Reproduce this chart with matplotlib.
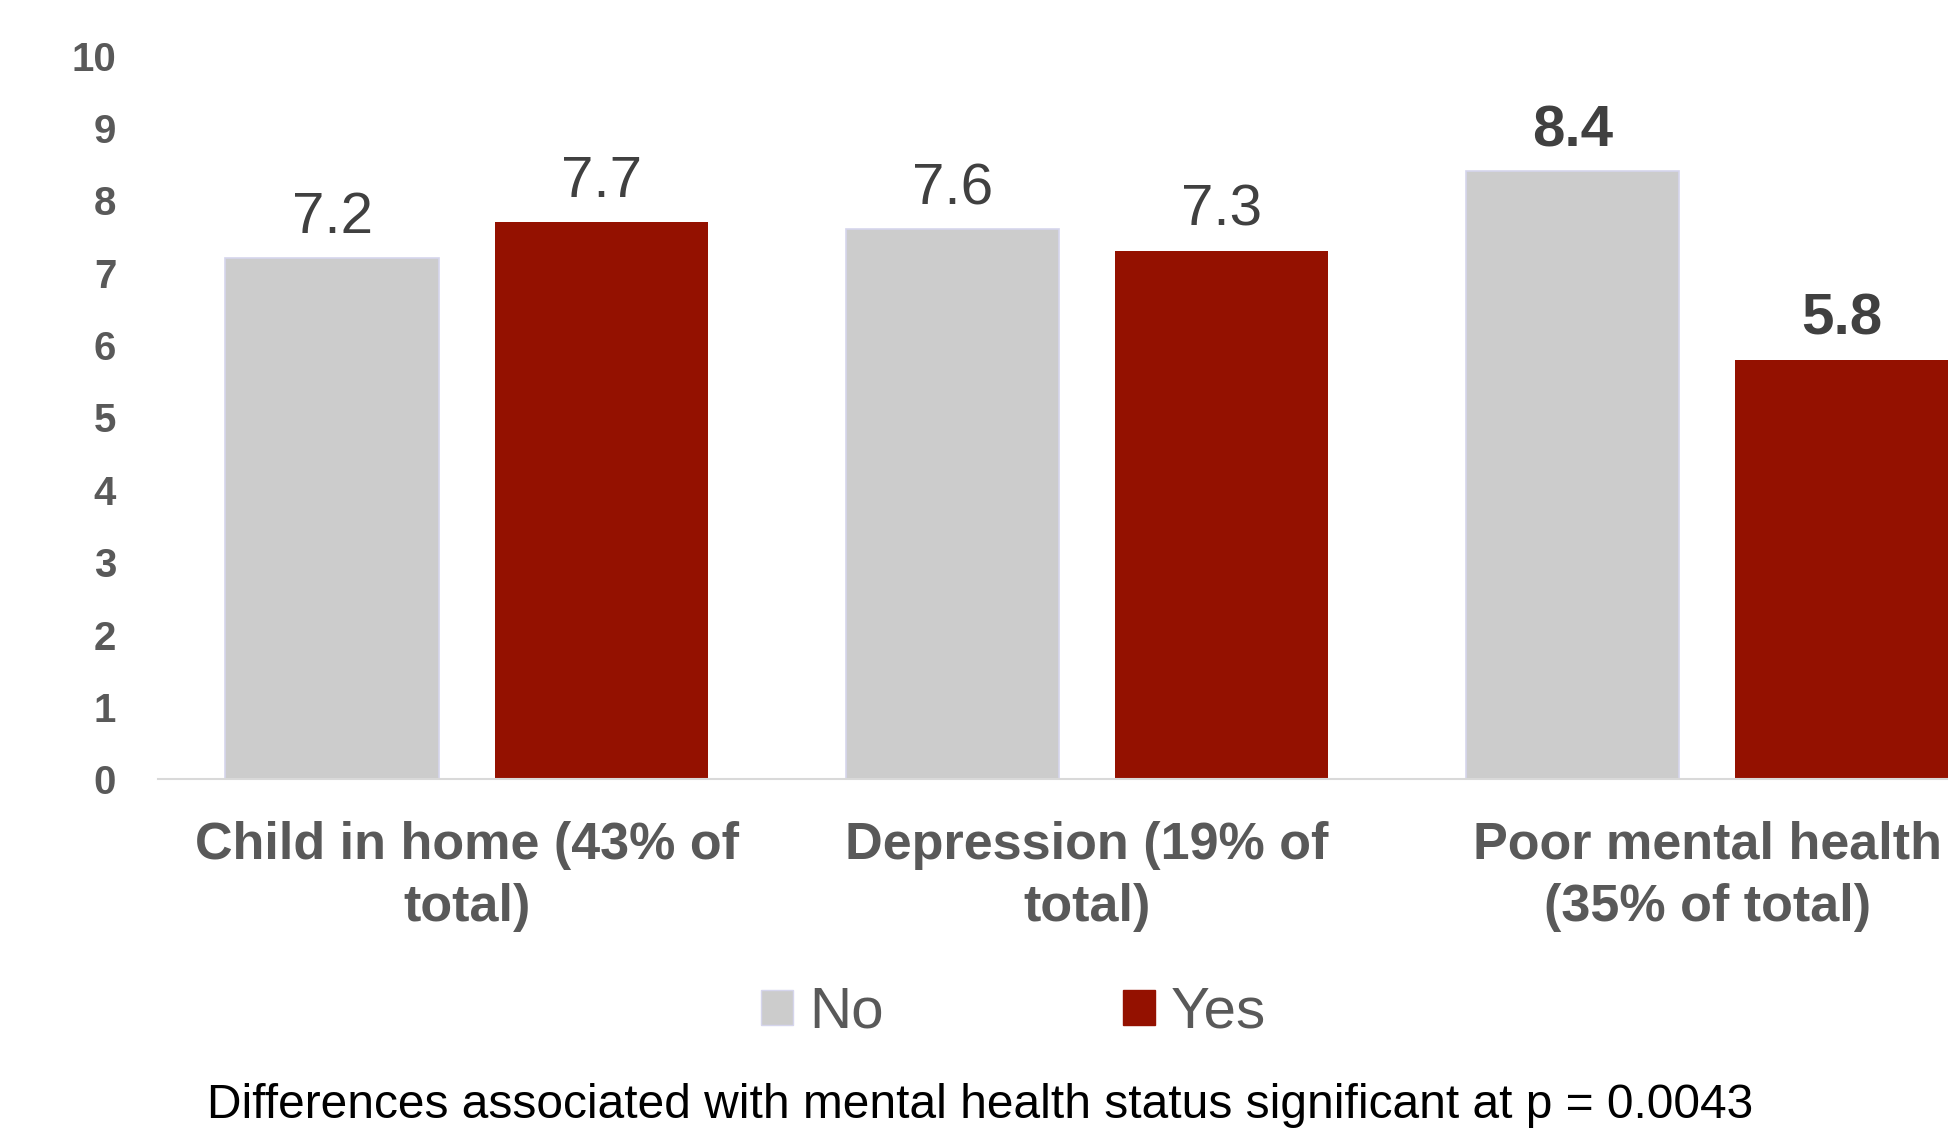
import matplotlib.pyplot as plt
import numpy as np
from matplotlib.patches import Patch

plt.rcParams['font.family'] = ['Liberation Sans', 'DejaVu Sans']

categories = ["Child in home (43% of\ntotal)", "Depression (19% of\ntotal)", "Poor mental health\n(35% of total)"]
no_vals = [7.2, 7.6, 8.4]
yes_vals = [7.7, 7.3, 5.8]
bold_labels = [False, False, True]  # significant group shown in bold
y_ticks = list(range(0, 11))
footnote = "Differences associated with mental health status significant at p = 0.0043"

no_color = '#cccccc'
yes_color = '#941100'

fig = plt.figure(figsize=(19.49, 11.36), dpi=100)
ax = fig.add_axes([0.081, 0.314, 0.919, 0.637])

x = np.arange(len(categories))
w = 0.344
off = 0.217
bars_no = ax.bar(x - off, no_vals, w, color=no_color, edgecolor='#d5d5ec', linewidth=1.2)
bars_yes = ax.bar(x + off, yes_vals, w, color=yes_color, edgecolor=yes_color, linewidth=0)

for bars, vals in ((bars_no, no_vals), (bars_yes, yes_vals)):
    for b, v, bold in zip(bars, vals, bold_labels):
        ax.annotate(f"{v:.1f}", (b.get_x() + b.get_width() / 2, v),
                    xytext=(0, 9.5), textcoords='offset points',
                    ha='center', va='bottom', fontsize=42,
                    fontweight='bold' if bold else 'normal', color='#404040')

ax.set_ylim(0, 10)
ax.set_xlim(-0.498, 2.39)
ax.set_yticks(y_ticks)
ax.set_yticklabels([str(t) for t in y_ticks], fontsize=29, fontweight='bold', color='#595959')
ax.set_xticks(x)
ax.set_xticklabels(categories, fontsize=37.5, fontweight='bold', color='#595959', linespacing=1.33)
ax.tick_params(axis='y', length=0, pad=30)
ax.tick_params(axis='x', length=0, pad=30)
for s in ['top', 'right', 'left']:
    ax.spines[s].set_visible(False)
ax.spines['bottom'].set_color('#d9d9d9')
ax.spines['bottom'].set_linewidth(1.5)

handles = [Patch(facecolor=no_color, edgecolor='#d5d5ec', label='No'),
           Patch(facecolor=yes_color, edgecolor=yes_color, label='Yes')]
fig.legend(handles=handles, loc='center', bbox_to_anchor=(0.52, 1 - 1013 / 1136), ncol=2,
           frameon=False, fontsize=42, labelcolor='#595959', handlelength=0.55,
           handleheight=0.55, handletextpad=0.28, columnspacing=4.1)

fig.text(0.503, 1 - 1105 / 1136, footnote, ha='center', va='center', fontsize=34.5, color='black')

plt.savefig('out.png', dpi=100)
